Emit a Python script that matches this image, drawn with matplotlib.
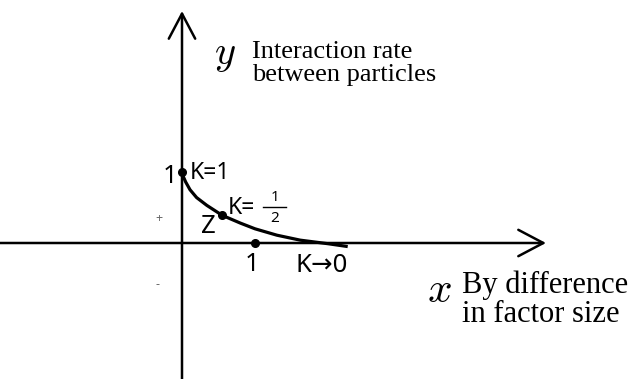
import matplotlib.pyplot as plt
import numpy as np

plt.rcParams['mathtext.fontset'] = 'cm'

# curve of interaction rate against difference in factor size
curve_x = [0.0, 0.02, 0.05, 0.11, 0.2, 0.34, 0.55, 0.8, 1.0, 1.3, 1.62, 2.0, 2.27]
curve_y = [1.0, 0.93, 0.86, 0.75, 0.64, 0.53, 0.39, 0.28, 0.2, 0.11, 0.04, -0.01, -0.05]

# marked points: K=1 on the y axis, K=1/2 (Z) on the curve, x=1 on the x axis
point_x = [0.0, 0.55, 1.0]
point_y = [1.0, 0.39, 0.0]

fig = plt.figure(figsize=(6.33, 3.79), dpi=100)
ax = fig.add_axes([0, 0, 1, 1])
ax.set_xlim(-182 / 73, (633 - 182) / 73)
ax.set_ylim(-(379 - 243) / 71, 243 / 71)
ax.axis('off')

arrow = dict(arrowstyle='->,head_length=1.8,head_width=0.95', lw=1.8, color='black',
             shrinkA=0, shrinkB=0)
ax.annotate('', xy=((546 - 182) / 73, 0), xytext=(-182 / 73, 0), arrowprops=arrow)
ax.annotate('', xy=(0, (243 - 11) / 71), xytext=(0, -(379 - 243) / 71), arrowprops=arrow)

ax.plot(curve_x, curve_y, color='black', lw=2.3, solid_capstyle='butt')
ax.plot(point_x, point_y, 'o', color='black', ms=5.5)

sans = ['Noto Sans', 'DejaVu Sans']
serif = 'Liberation Serif'
w = 'medium'
ax.text(-0.06, 0.94, '1', family=sans, fontsize=18.5, weight=w, ha='right', va='center')
ax.text(0.1, 0.99, 'K=1', family=sans, fontsize=16.5, weight=w, ha='left', va='center')
ax.text(0.62, 0.49, 'K=', family=sans, fontsize=16.5, weight=w, ha='left', va='center')
ax.text(1.27, 0.635, '1', family=sans, fontsize=11, weight=w, ha='center', va='center')
ax.plot([1.11, 1.43], [0.51, 0.51], color='black', lw=1.0)
ax.text(1.27, 0.35, '2', family=sans, fontsize=11, weight=w, ha='center', va='center')
ax.text(0.36, 0.23, 'Z', family=sans, fontsize=18.5, weight=w, ha='center', va='center')
ax.text(0.96, -0.3, '1', family=sans, fontsize=18.5, weight=w, ha='center', va='center')
ax.text(1.55, -0.32, 'K→0', family=sans, fontsize=18.5, weight=w, ha='left', va='center')

ax.text(-0.32, 0.345, '+', family=sans, fontsize=9, color='#666666', ha='center', va='center')
ax.text(-0.33, -0.58, '-', family=sans, fontsize=9, color='#666666', ha='center', va='center')

ax.text(0.59, 2.66, r'$y$', fontsize=29, ha='center', va='center')
ax.text(0.96, 2.53, 'Interaction rate\nbetween particles', family=serif, fontsize=19,
        ha='left', va='center', linespacing=1.03)
ax.text(3.52, -0.66, r'$x$', fontsize=31, ha='center', va='center')
ax.text(3.83, -0.8, 'By difference\nin factor size', family=serif, fontsize=22,
        ha='left', va='center', linespacing=1.04)

fig.savefig('out.png', dpi=100)
